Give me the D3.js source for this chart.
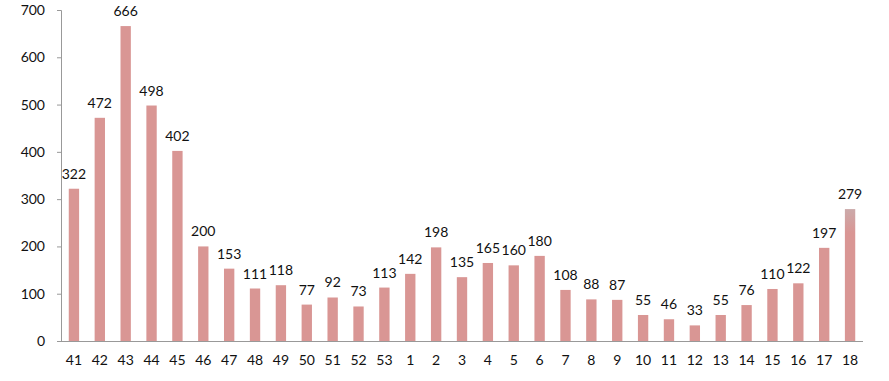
<!DOCTYPE html>
<html>
<head>
<meta charset="utf-8">
<script src="https://cdn.jsdelivr.net/npm/d3@7"></script>
<style>
  body { margin: 0; background: #fff; }
  text { font-family: Lato, "Open Sans", sans-serif; }
</style>
</head>
<body>
<svg id="chart"></svg>
<script>
const weeks = ["41","42","43","44","45","46","47","48","49","50","51","52","53",
  "1","2","3","4","5","6","7","8","9","10","11","12","13","14","15","16","17","18"];
const cases = [322,472,666,498,402,200,153,111,118,77,92,73,113,
  142,198,135,165,160,180,108,88,87,55,46,33,55,76,110,122,197,279];
const yTicks = [0,100,200,300,400,500,600,700];

const width = 889, height = 381;
const font = "Lato, 'Open Sans', sans-serif";
const svg = d3.select("#chart").attr("width", width).attr("height", height);

const x = d3.scaleBand().domain(weeks).range([61, 863]).paddingInner(0.6).paddingOuter(0.3);
const y = d3.scaleLinear().domain([0, 700]).range([341, 10]);

// gradient for the last (incomplete) week
const defs = svg.append("defs");
const grad = defs.append("linearGradient").attr("id", "fade").attr("x1", 0).attr("y1", 0).attr("x2", 0).attr("y2", 1);
grad.append("stop").attr("offset", "0%").attr("stop-color", "#cbaaaa");
grad.append("stop").attr("offset", "18%").attr("stop-color", "#d99694");
grad.append("stop").attr("offset", "100%").attr("stop-color", "#d99694");

// bars
svg.selectAll("rect.bar")
  .data(weeks)
  .join("rect")
  .attr("class", "bar")
  .attr("x", d => x(d))
  .attr("width", x.bandwidth())
  .attr("y", (d, i) => y(cases[i]))
  .attr("height", (d, i) => y(0) - y(cases[i]))
  .attr("fill", (d, i) => i === weeks.length - 1 ? "url(#fade)" : "#d99694");

// value labels
svg.selectAll("text.val")
  .data(weeks)
  .join("text")
  .attr("class", "val")
  .attr("x", d => x(d) + x.bandwidth() / 2)
  .attr("y", (d, i) => y(cases[i]) - 10)
  .attr("text-anchor", "middle")
  .attr("font-size", "14px")
  .attr("fill", "#111")
  .text((d, i) => cases[i]);

// y axis
const yAxis = svg.append("g")
  .attr("transform", "translate(61,0)")
  .call(d3.axisLeft(y).tickValues(yTicks).tickSize(4).tickPadding(12));
yAxis.select(".domain").attr("stroke", "#999");
yAxis.selectAll(".tick line").attr("stroke", "#999");
yAxis.selectAll(".tick text").attr("font-size", "14px").attr("fill", "#111").attr("font-family", font);

// x axis
const xAxis = svg.append("g")
  .attr("transform", "translate(0,341)")
  .call(d3.axisBottom(x).tickSize(0).tickPadding(14));
xAxis.select(".domain").attr("stroke", "#999").attr("d", "M57,0.5H863");
xAxis.selectAll(".tick text").attr("font-size", "14px").attr("fill", "#111").attr("font-family", font);
</script>
</body>
</html>
